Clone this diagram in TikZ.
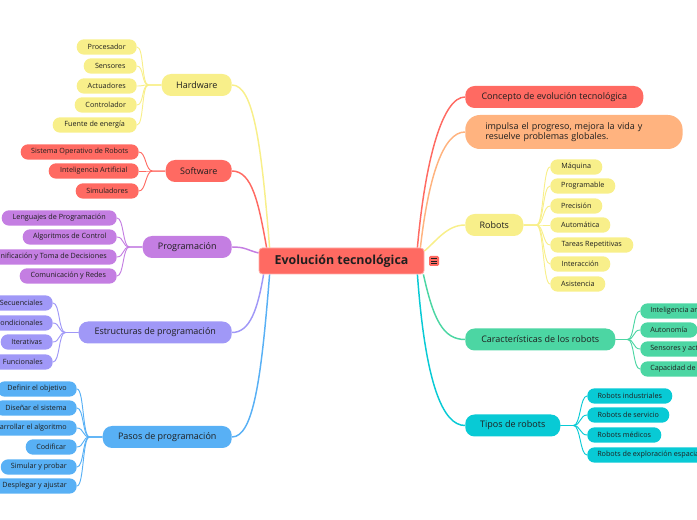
\documentclass[tikz,border=0pt]{standalone}
\usepackage{fontspec}
\setmainfont{Open Sans}
\usetikzlibrary{calc}
\definecolor{cred}{HTML}{FF6A62}
\definecolor{cora}{HTML}{FFB37F}
\definecolor{cyel}{HTML}{F8EF8A}
\definecolor{cpur}{HTML}{C47EE2}
\definecolor{cper}{HTML}{A098F7}
\definecolor{cblu}{HTML}{58B0F5}
\definecolor{cgrn}{HTML}{4CD6A3}
\definecolor{ccya}{HTML}{08CAD5}
\definecolor{txt}{HTML}{1F1F1F}
\pgfdeclarelayer{bg}
\pgfsetlayers{bg,main}
\begin{document}
\begin{tikzpicture}[x=0.75pt,y=-0.75pt,
  every node/.style={inner sep=0pt, text=txt},
  mainn/.style={rounded corners=7pt, minimum height=16.5pt, inner xsep=8pt, font=\fontsize{6.75}{8}\selectfont},
  kid/.style={rounded corners=5.5pt, minimum height=11.5pt, inner xsep=7.5pt, font=\fontsize{5.4}{6.4}\selectfont},
  bw/.style={minimum width=#1*0.75pt},
  mconn/.style={line width=1.1pt},
  kconn/.style={line width=0.7pt},
]
\useasboundingbox (0,-1) rectangle (697,519);

% center
\node[fill=cred, draw=cred!55!white, line width=0.6pt, rounded corners=2.5pt,
      minimum width=165*0.75pt, minimum height=26*0.75pt,
      font=\bfseries\fontsize{9.3}{11}\selectfont] (ctr) at (341.5,260) {Evolución tecnológica};
\node[fill=cred, rounded corners=1pt, minimum width=7.5pt, minimum height=7.5pt] (menu) at (434,260) {};
\draw[txt, line width=0.45pt] ($(menu.center)+(-3,-2.5)$) -- ++(6,0)
  ($(menu.center)+(-3,0)$) -- ++(6,0) ($(menu.center)+(-3,2.5)$) -- ++(6,0);

% ---------- left main ----------
\node[mainn, fill=cyel, bw=70,  anchor=east] (hw) at (232,84)  {Hardware};
\node[mainn, fill=cred, bw=66,  anchor=east] (sw) at (232,170) {Software};
\node[mainn, fill=cpur, bw=89,  anchor=east] (pg) at (232,246) {Programación};
\node[mainn, fill=cper, bw=153, anchor=east] (es) at (232,331.5) {Estructuras de programación};
\node[mainn, fill=cblu, bw=129, anchor=east] (ps) at (232,436) {Pasos de programación};

% hardware kids
\node[kid, fill=cyel, bw=60, anchor=east] (hw1) at (137,46)  {Procesador};
\node[kid, fill=cyel, bw=53, anchor=east] (hw2) at (137,65)  {Sensores};
\node[kid, fill=cyel, bw=60, anchor=east] (hw3) at (137,85)  {Actuadores};
\node[kid, fill=cyel, bw=62, anchor=east] (hw4) at (137,104) {Controlador};
\node[kid, fill=cyel, bw=84, anchor=east] (hw5) at (137,124) {Fuente de energía};
% software kids
\node[kid, fill=cred, bw=118, anchor=east] (sw1) at (139,151) {Sistema Operativo de Robots};
\node[kid, fill=cred, bw=90,  anchor=east] (sw2) at (139,170) {Inteligencia Artificial};
\node[kid, fill=cred, bw=63,  anchor=east] (sw3) at (139,190) {Simuladores};
% programacion kids
\node[kid, fill=cpur, bw=115, anchor=east] (pg1) at (117,217) {Lenguajes de Programación};
\node[kid, fill=cpur, bw=94,  anchor=east] (pg2) at (117,236) {Algoritmos de Control};
\node[kid, fill=cpur, anchor=east] (pg3) at (117,256) {Planificación y Toma de Decisiones};
\node[kid, fill=cpur, bw=97,  anchor=east] (pg4) at (117,275) {Comunicación y Redes};
% estructuras kids
\node[kid, fill=cper, anchor=east] (es1) at (53,302) {Secuenciales};
\node[kid, fill=cper, anchor=east] (es2) at (53,322) {Condicionales};
\node[kid, fill=cper, bw=52, anchor=east] (es3) at (53,341) {Iterativas};
\node[kid, fill=cper, anchor=east] (es4) at (53,361) {Funcionales};
% pasos kids
\node[kid, fill=cblu, anchor=east] (ps1) at (77,388) {Definir el objetivo};
\node[kid, fill=cblu, anchor=east] (ps2) at (77,407) {Diseñar el sistema};
\node[kid, fill=cblu, anchor=east] (ps3) at (77,427) {Desarrollar el algoritmo};
\node[kid, fill=cblu, bw=51, anchor=east] (ps4) at (77,446) {Codificar};
\node[kid, fill=cblu, anchor=east] (ps5) at (77,466) {Simular y probar};
\node[kid, fill=cblu, anchor=east] (ps6) at (77,485) {Desplegar y ajustar};

% ---------- right main ----------
\node[mainn, fill=cred, bw=178, anchor=west] (cp) at (465,96) {Concepto de evolución tecnológica};
\node[mainn, fill=cora, bw=216, minimum height=34*0.75pt, rounded corners=11pt, anchor=west,
      align=left, text width=147pt] (im) at (465,131)
      {\hspace*{7pt}impulsa el progreso, mejora la vida y\\\hspace*{7pt}resuelve problemas globales.};
\node[mainn, fill=cyel, bw=58,  anchor=west] (rb) at (465,224) {Robots};
\node[mainn, fill=cgrn, bw=150, anchor=west] (ch) at (465,338.5) {Características de los robots};
\node[mainn, fill=ccya, bw=95,  anchor=west] (tp) at (465,424.5) {Tipos de robots};

% robots kids
\node[kid, fill=cyel, bw=52, anchor=west] (rb1) at (550,166) {Máquina};
\node[kid, fill=cyel, bw=65, anchor=west] (rb2) at (550,185) {Programable};
\node[kid, fill=cyel, bw=52, anchor=west] (rb3) at (550,205) {Precisión};
\node[kid, fill=cyel, bw=60, anchor=west] (rb4) at (550,224) {Automática};
\node[kid, fill=cyel, bw=83, anchor=west] (rb5) at (550,244) {Tareas Repetitivas};
\node[kid, fill=cyel, bw=60, anchor=west] (rb6) at (550,263) {Interacción};
\node[kid, fill=cyel, bw=55, anchor=west] (rb7) at (550,283) {Asistencia};
% caracteristicas kids
\node[kid, fill=cgrn, anchor=west] (ch1) at (640,310) {Inteligencia artificial};
\node[kid, fill=cgrn, bw=48, anchor=west] (ch2) at (640,329) {Autonomía};
\node[kid, fill=cgrn, anchor=west] (ch3) at (640,348) {Sensores y actuadores};
\node[kid, fill=cgrn, anchor=west] (ch4) at (640,368) {Capacidad de aprendizaje};
% tipos kids
\node[kid, fill=ccya, bw=85, anchor=west] (tp1) at (587,395) {Robots industriales};
\node[kid, fill=ccya, bw=82, anchor=west] (tp2) at (587,414) {Robots de servicio};
\node[kid, fill=ccya, bw=74, anchor=west] (tp3) at (587,434) {Robots médicos};
\node[kid, fill=ccya, anchor=west] (tp4) at (587,454) {Robots de exploración espacial};

\begin{pgfonlayer}{bg}
% main connectors left
\draw[mconn, cyel] (hw.east) .. controls +(22,0) and +(-8,-100) .. ($(ctr.north west)+(11,0)$);
\draw[mconn, cred] (sw.east) .. controls +(20,0) and +(-8,-45) .. ($(ctr.north west)+(8,0)$);
\draw[mconn, cpur] (pg.east) .. controls +(14,0) and +(-12,-3) .. ($(ctr.west)+(0,-8)$);
\draw[mconn, cper] (es.east) .. controls +(18,0) and +(-6,35) .. ($(ctr.south west)+(5,0)$);
\draw[mconn, cblu] (ps.east) .. controls +(22,0) and +(-8,100) .. ($(ctr.south west)+(11,0)$);
% main connectors right
\draw[mconn, cred] ($(ctr.north east)+(-7,0)$) .. controls +(8,-90) and +(-22,0) .. (cp.west);
\draw[mconn, cora] ($(ctr.north east)+(-4,0)$) .. controls +(8,-70) and +(-22,0) .. (im.west);
\draw[mconn, cyel] ($(ctr.east)+(0,-10)$) .. controls +(12,-10) and +(-18,0) .. (rb.west);
\draw[mconn, cgrn] ($(ctr.south east)+(-1,0)$) .. controls +(10,45) and +(-22,0) .. (ch.west);
\draw[mconn, ccya] ($(ctr.south east)+(-7,0)$) .. controls +(8,110) and +(-22,0) .. (tp.west);
% kid connectors
\foreach \c in {hw1,hw2,hw3,hw4,hw5}
  \draw[kconn, cyel] (hw.west) -- ++(-13,0) .. controls +(-7,0) and +(7,0) .. (\c.east);
\foreach \c in {sw1,sw2,sw3}
  \draw[kconn, cred] (sw.west) -- ++(-13,0) .. controls +(-7,0) and +(7,0) .. (\c.east);
\foreach \c in {pg1,pg2,pg3,pg4}
  \draw[kconn, cpur] (pg.west) -- ++(-13,0) .. controls +(-7,0) and +(7,0) .. (\c.east);
\foreach \c in {es1,es2,es3,es4}
  \draw[kconn, cper] (es.west) -- ++(-13,0) .. controls +(-7,0) and +(7,0) .. (\c.east);
\foreach \c in {ps1,ps2,ps3,ps4,ps5,ps6}
  \draw[kconn, cblu] (ps.west) -- ++(-13,0) .. controls +(-7,0) and +(7,0) .. (\c.east);
\foreach \c in {rb1,rb2,rb3,rb4,rb5,rb6,rb7}
  \draw[kconn, cyel] (rb.east) -- ++(13,0) .. controls +(7,0) and +(-7,0) .. (\c.west);
\foreach \c in {ch1,ch2,ch3,ch4}
  \draw[kconn, cgrn] (ch.east) -- ++(12,0) .. controls +(7,0) and +(-7,0) .. (\c.west);
\foreach \c in {tp1,tp2,tp3,tp4}
  \draw[kconn, ccya] (tp.east) -- ++(13,0) .. controls +(7,0) and +(-7,0) .. (\c.west);
\end{pgfonlayer}
\end{tikzpicture}
\end{document}
